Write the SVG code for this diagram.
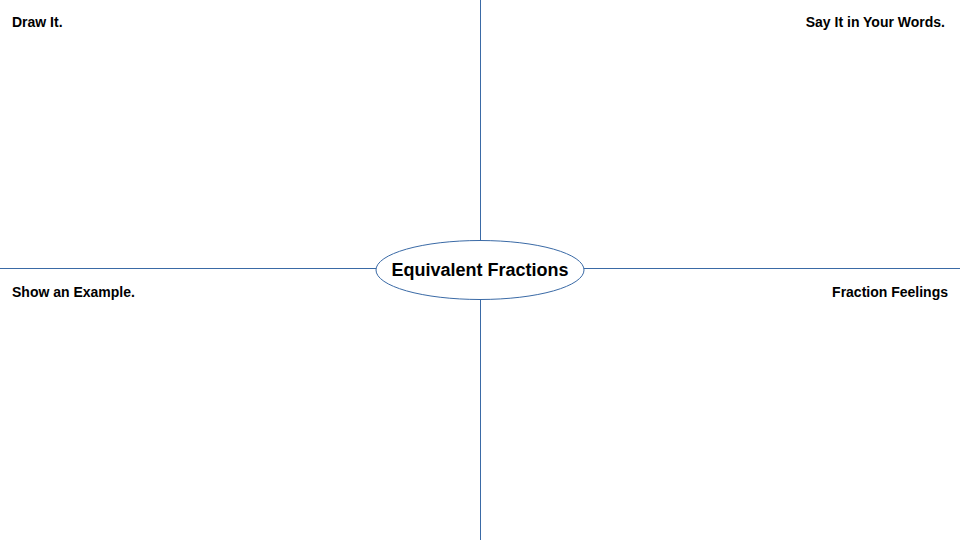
<svg xmlns="http://www.w3.org/2000/svg" width="960" height="540" viewBox="0 0 960 540">
<style>
.ln{stroke:#3a6aa6;stroke-width:1;fill:none}
.lbl{font-family:"Liberation Sans",Arial,sans-serif;font-weight:bold;font-size:14px;fill:#000}
.title{font-family:"Liberation Sans",Arial,sans-serif;font-weight:bold;font-size:18px;fill:#000}
</style>
<rect width="960" height="540" fill="#fff"/>
<g id="connectors">
<line class="ln" x1="480.5" y1="0" x2="480.5" y2="241"/>
<line class="ln" x1="480.5" y1="299" x2="480.5" y2="540"/>
<line class="ln" x1="0" y1="268.5" x2="376" y2="268.5"/>
<line class="ln" x1="584" y1="268.5" x2="960" y2="268.5"/>
</g>
<g id="center">
<ellipse class="ln" cx="480" cy="270" rx="104" ry="29.5"/>
<text class="title" x="480" y="276" text-anchor="middle">Equivalent Fractions</text>
</g>
<g id="draw-it"><text class="lbl" x="12" y="27">Draw It.</text></g>
<g id="say-it"><text class="lbl" x="945" y="27" text-anchor="end">Say It in Your Words.</text></g>
<g id="show-example"><text class="lbl" x="12" y="297">Show an Example.</text></g>
<g id="feelings"><text class="lbl" x="948" y="297" text-anchor="end">Fraction Feelings</text></g>
</svg>
